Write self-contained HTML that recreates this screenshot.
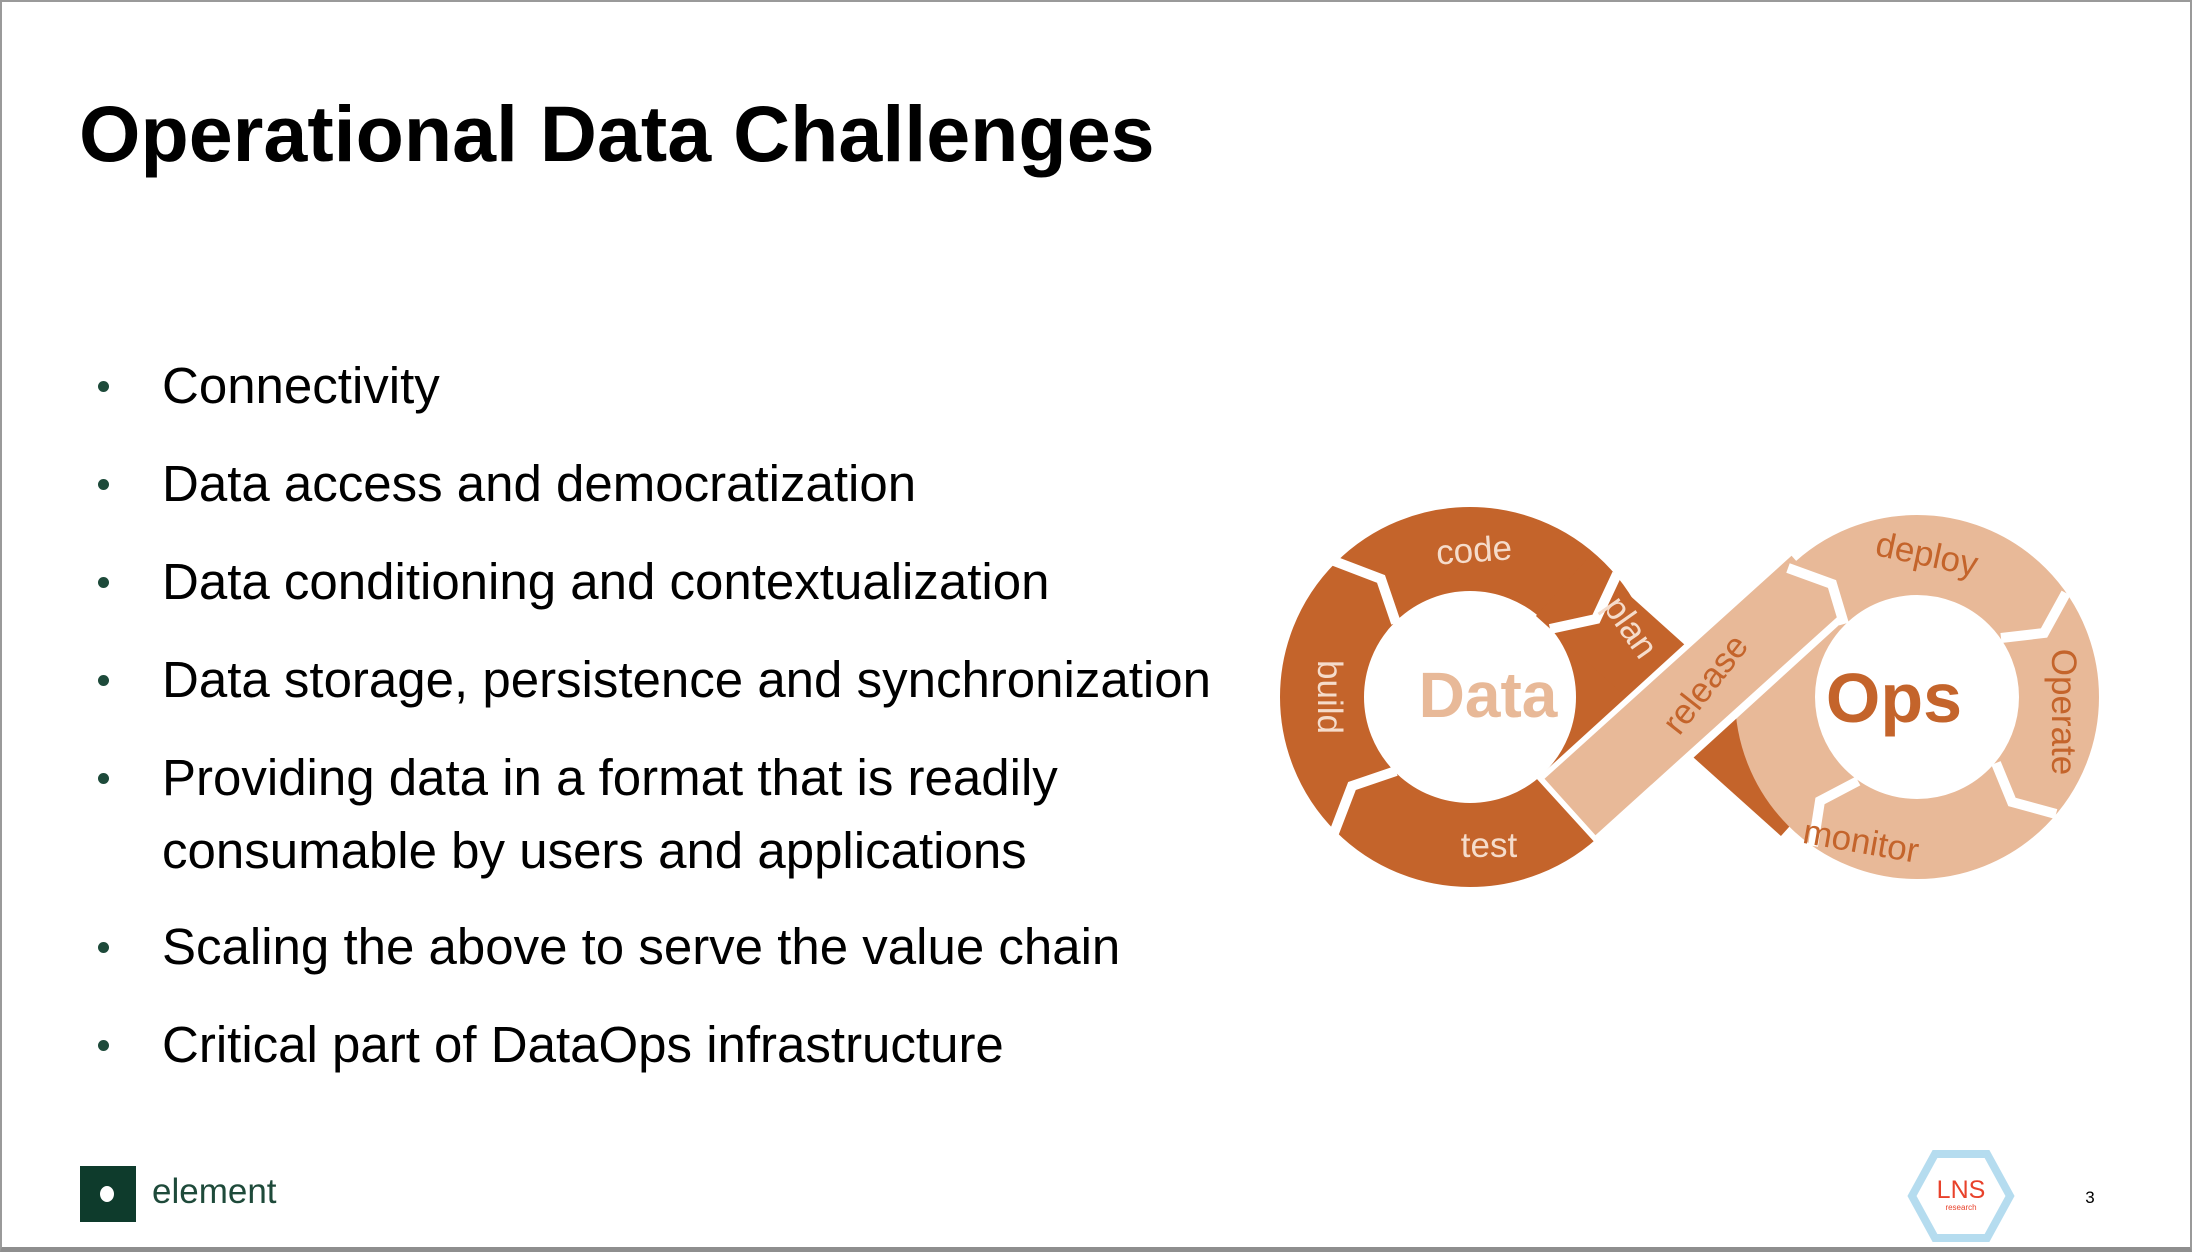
<!DOCTYPE html>
<html><head><meta charset="utf-8"><style>
html,body{margin:0;padding:0;background:#fff;}
.page{position:relative;width:2192px;height:1252px;overflow:hidden;box-sizing:border-box;border:2px solid #9a9a9a;border-bottom:5px solid #8e8e8e;font-family:"Liberation Sans",Arial,sans-serif;}
h1{position:absolute;left:77px;top:92px;margin:0;font-size:79px;font-weight:bold;line-height:1;color:#000;white-space:nowrap;}
.b{position:absolute;left:160px;font-size:51px;color:#000;line-height:73px;white-space:nowrap;}
.d{position:absolute;left:96px;width:11px;height:11px;border-radius:50%;background:#1d4a3a;}
</style></head><body><div class="page">
<h1>Operational Data Challenges</h1>
<div class="d" style="top:379px"></div><div class="b" style="top:347px">Connectivity</div>
<div class="d" style="top:477px"></div><div class="b" style="top:445px">Data access and democratization</div>
<div class="d" style="top:575px"></div><div class="b" style="top:543px">Data conditioning and contextualization</div>
<div class="d" style="top:673px"></div><div class="b" style="top:641px">Data storage, persistence and synchronization</div>
<div class="d" style="top:771px"></div><div class="b" style="top:739px">Providing data in a format that is readily<br>consumable by users and applications</div>
<div class="d" style="top:940px"></div><div class="b" style="top:908px">Scaling the above to serve the value chain</div>
<div class="d" style="top:1038px"></div><div class="b" style="top:1006px">Critical part of DataOps infrastructure</div>

<svg width="2192" height="1252" style="position:absolute;left:0;top:0" font-family="'Liberation Sans',Arial,sans-serif">
<circle cx="1468" cy="695" r="148" fill="none" stroke="#c4642b" stroke-width="84"/>
<line x1="1560" y1="585" x2="1805" y2="805" stroke="#c4642b" stroke-width="78"/>
<circle cx="1915" cy="695" r="142" fill="none" stroke="#e8b998" stroke-width="80"/>
<line x1="1565" y1="810" x2="1812" y2="585" stroke="#fff" stroke-width="90"/>
<line x1="1568" y1="805" x2="1815" y2="582" stroke="#e8b998" stroke-width="76"/>
<g stroke="#fff" stroke-width="10" fill="none" stroke-linejoin="miter">
<polyline points="1394,621 1379,577 1332,559"/>
<polyline points="1394,769 1350,784 1332,831"/>
<polyline points="1548,627 1594,617 1615,572"/>
<polyline points="1999,636 2042,631 2064,591"/>
<polyline points="1994,761 2010,800 2054,812"/>
<polyline points="1856,779 1818,799 1811,844"/>
<polyline points="1842,622 1830,582 1786,566"/>
</g>
<g font-size="35" text-anchor="middle">
<text x="1472" y="560" fill="#f5dccb" transform="rotate(-4 1472 548)">code</text>
<text x="1328" y="707" fill="#f5dccb" transform="rotate(90 1328 695)">build</text>
<text x="1487" y="855" fill="#f5dccb">test</text>
<text x="1629" y="637" fill="#f5dccb" transform="rotate(55 1629 625)">plan</text>
<text x="1703" y="694" fill="#c4642b" transform="rotate(-52 1703 682)">release</text>
<text x="1925" y="564" fill="#c4642b" transform="rotate(12 1925 552)">deploy</text>
<text x="2062" y="722" fill="#c4642b" transform="rotate(90 2062 710)">Operate</text>
<text x="1859" y="851" fill="#c4642b" transform="rotate(10 1859 839)">monitor</text>
</g>
<text x="1486" y="715" font-size="64" font-weight="bold" fill="#e8b998" text-anchor="middle">Data</text>
<text x="1892" y="720" font-size="70" font-weight="bold" fill="#c4642b" text-anchor="middle">Ops</text>
<polygon points="1933,1152 1985,1152 2008,1194 1985,1236 1933,1236 1910,1194" fill="none" stroke="#b5dcef" stroke-width="8"/>
<text x="1959" y="1196" font-size="25" fill="#e8422b" text-anchor="middle">LNS</text>
<text x="1959" y="1208" font-size="8" fill="#e8422b" text-anchor="middle">research</text>
<text x="2088" y="1201" font-size="17" fill="#000" text-anchor="middle">3</text>
</svg>

<div style="position:absolute;left:78px;top:1164px;width:56px;height:56px;background:#0e3b2c;"></div>
<div style="position:absolute;left:98px;top:1184px;width:14px;height:16px;border-radius:50%;background:#fff;"></div>
<div style="position:absolute;left:150px;top:1170px;font-size:35px;color:#1e4a3a;line-height:40px;">element</div>
</div></body></html>
